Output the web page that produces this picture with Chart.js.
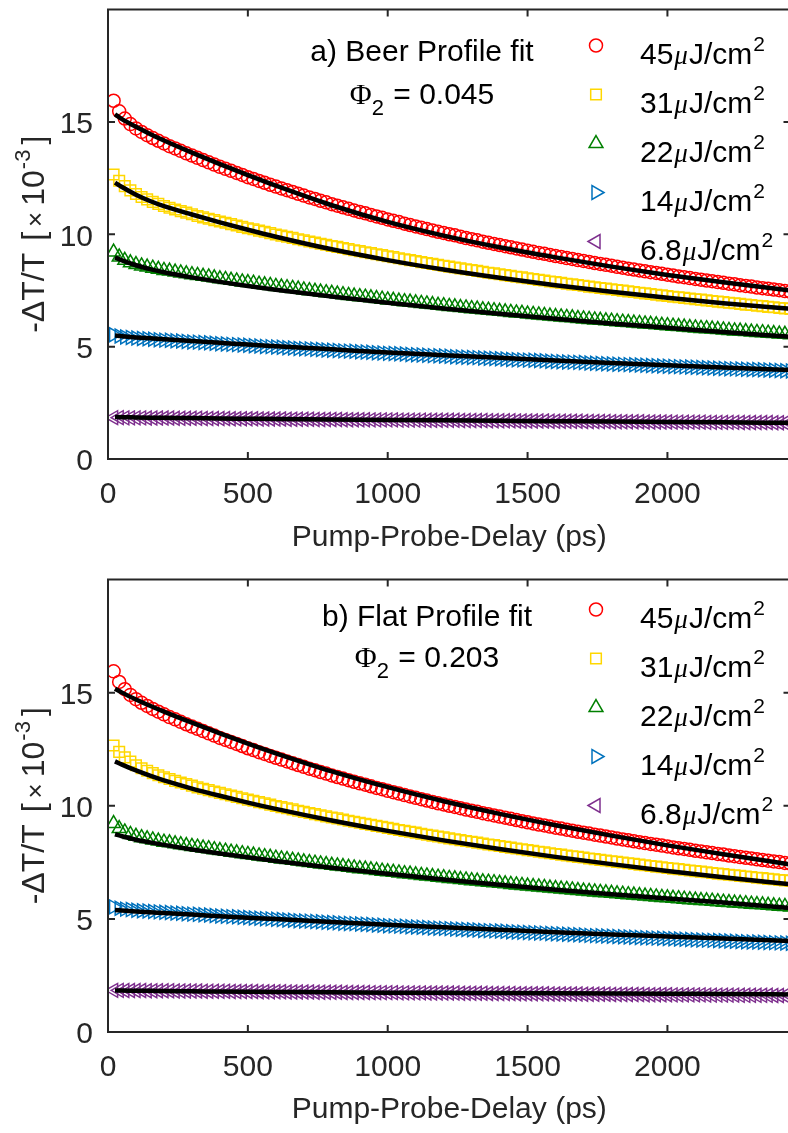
<!DOCTYPE html>
<html lang="en">
<head>
<meta charset="utf-8">
<title>Beer vs flat profile fits</title>
<script src="https://cdn.jsdelivr.net/npm/chart.js@4.4.1/dist/chart.umd.min.js"></script>
<style>
  html, body { margin: 0; padding: 0; background: #ffffff; }
  body { position: relative; width: 788px; height: 1133px; overflow: hidden; }
  canvas { position: absolute; left: 0; }
  #beerChart { top: 0; width: 800px; height: 570px; }
  #flatChart { top: 570px; width: 800px; height: 563px; }
</style>
</head>
<body>
<canvas id="beerChart" width="800" height="570"></canvas>
<canvas id="flatChart" width="800" height="563"></canvas>
<script>
// pump-probe delay of the measured points (ps)
const delays = [
  20, 40, 60, 80, 100, 120, 140, 160, 180, 200,
  220, 240, 260, 280, 300, 320, 340, 360, 380, 400,
  420, 440, 460, 480, 500, 520, 540, 560, 580, 600,
  620, 640, 660, 680, 700, 720, 740, 760, 780, 800,
  820, 840, 860, 880, 900, 920, 940, 960, 980, 1000,
  1020, 1040, 1060, 1080, 1100, 1120, 1140, 1160, 1180, 1200,
  1220, 1240, 1260, 1280, 1300, 1320, 1340, 1360, 1380, 1400,
  1420, 1440, 1460, 1480, 1500, 1520, 1540, 1560, 1580, 1600,
  1620, 1640, 1660, 1680, 1700, 1720, 1740, 1760, 1780, 1800,
  1820, 1840, 1860, 1880, 1900, 1920, 1940, 1960, 1980, 2000,
  2020, 2040, 2060, 2080, 2100, 2120, 2140, 2160, 2180, 2200,
  2220, 2240, 2260, 2280, 2300, 2320, 2340, 2360, 2380, 2400,
  2420, 2440
];

// measured -dT/T (x 1e-3), one array per pump fluence
const data45 = [
  15.94, 15.47, 15.15, 14.90, 14.71, 14.55, 14.41, 14.28, 14.16, 14.04,
  13.92, 13.82, 13.71, 13.60, 13.50, 13.40, 13.30, 13.20, 13.10, 13.00,
  12.91, 12.82, 12.73, 12.64, 12.54, 12.46, 12.37, 12.29, 12.20, 12.12,
  12.04, 11.96, 11.88, 11.80, 11.72, 11.64, 11.57, 11.49, 11.42, 11.34,
  11.27, 11.20, 11.13, 11.06, 10.99, 10.93, 10.86, 10.79, 10.73, 10.66,
  10.60, 10.54, 10.47, 10.41, 10.35, 10.29, 10.23, 10.17, 10.11, 10.06,
  10.00, 9.95, 9.89, 9.83, 9.78, 9.73, 9.67, 9.62, 9.57, 9.52,
  9.47, 9.42, 9.37, 9.32, 9.27, 9.22, 9.17, 9.13, 9.08, 9.03,
  8.99, 8.94, 8.90, 8.85, 8.81, 8.77, 8.72, 8.68, 8.64, 8.60,
  8.55, 8.51, 8.47, 8.43, 8.39, 8.35, 8.31, 8.28, 8.24, 8.20,
  8.16, 8.12, 8.09, 8.05, 8.01, 7.98, 7.94, 7.91, 7.87, 7.84,
  7.80, 7.77, 7.73, 7.70, 7.67, 7.63, 7.60, 7.57, 7.54, 7.51,
  7.47, 7.44
];
const data31 = [
  12.66, 12.38, 12.14, 11.95, 11.79, 11.66, 11.55, 11.44, 11.35, 11.26,
  11.18, 11.10, 11.03, 10.96, 10.89, 10.81, 10.75, 10.69, 10.63, 10.57,
  10.51, 10.45, 10.39, 10.33, 10.27, 10.22, 10.16, 10.11, 10.05, 9.99,
  9.94, 9.89, 9.84, 9.78, 9.73, 9.68, 9.63, 9.58, 9.53, 9.48,
  9.44, 9.39, 9.34, 9.29, 9.25, 9.20, 9.16, 9.11, 9.07, 9.02,
  8.98, 8.93, 8.89, 8.85, 8.81, 8.76, 8.72, 8.68, 8.64, 8.60,
  8.56, 8.52, 8.48, 8.44, 8.41, 8.37, 8.33, 8.29, 8.26, 8.22,
  8.18, 8.15, 8.11, 8.08, 8.04, 8.01, 7.97, 7.94, 7.90, 7.87,
  7.84, 7.80, 7.77, 7.74, 7.71, 7.67, 7.64, 7.61, 7.58, 7.55,
  7.52, 7.49, 7.46, 7.43, 7.40, 7.37, 7.34, 7.31, 7.28, 7.25,
  7.22, 7.20, 7.17, 7.14, 7.11, 7.09, 7.06, 7.03, 7.00, 6.98,
  6.95, 6.93, 6.90, 6.87, 6.85, 6.82, 6.80, 6.77, 6.75, 6.72,
  6.70, 6.68
];
const data22 = [
  9.21, 8.99, 8.84, 8.73, 8.65, 8.59, 8.54, 8.49, 8.44, 8.39,
  8.36, 8.32, 8.28, 8.24, 8.20, 8.17, 8.13, 8.10, 8.06, 8.02,
  7.99, 7.95, 7.92, 7.88, 7.85, 7.82, 7.78, 7.75, 7.72, 7.68,
  7.65, 7.62, 7.59, 7.56, 7.52, 7.49, 7.46, 7.43, 7.40, 7.37,
  7.34, 7.31, 7.28, 7.25, 7.22, 7.20, 7.17, 7.14, 7.11, 7.08,
  7.06, 7.03, 7.00, 6.98, 6.95, 6.92, 6.90, 6.87, 6.84, 6.82,
  6.79, 6.77, 6.74, 6.72, 6.69, 6.67, 6.64, 6.62, 6.60, 6.57,
  6.55, 6.52, 6.50, 6.48, 6.45, 6.43, 6.41, 6.39, 6.36, 6.34,
  6.32, 6.30, 6.28, 6.25, 6.23, 6.21, 6.19, 6.17, 6.15, 6.13,
  6.11, 6.09, 6.07, 6.05, 6.03, 6.01, 5.99, 5.97, 5.95, 5.93,
  5.91, 5.89, 5.87, 5.85, 5.83, 5.81, 5.80, 5.78, 5.76, 5.74,
  5.72, 5.70, 5.69, 5.67, 5.65, 5.63, 5.62, 5.60, 5.58, 5.56,
  5.55, 5.53
];
const data14 = [
  5.53, 5.47, 5.43, 5.41, 5.38, 5.36, 5.35, 5.33, 5.31, 5.29,
  5.28, 5.26, 5.25, 5.23, 5.21, 5.20, 5.18, 5.17, 5.15, 5.13,
  5.12, 5.10, 5.09, 5.07, 5.06, 5.04, 5.03, 5.01, 5.00, 4.98,
  4.97, 4.95, 4.94, 4.92, 4.91, 4.90, 4.88, 4.87, 4.85, 4.84,
  4.83, 4.81, 4.80, 4.79, 4.77, 4.76, 4.75, 4.73, 4.72, 4.70,
  4.69, 4.68, 4.67, 4.65, 4.64, 4.63, 4.62, 4.60, 4.59, 4.58,
  4.57, 4.55, 4.54, 4.53, 4.52, 4.51, 4.49, 4.48, 4.47, 4.46,
  4.45, 4.43, 4.42, 4.41, 4.40, 4.39, 4.38, 4.37, 4.35, 4.34,
  4.33, 4.32, 4.31, 4.30, 4.29, 4.27, 4.26, 4.25, 4.24, 4.23,
  4.22, 4.21, 4.20, 4.19, 4.18, 4.17, 4.16, 4.15, 4.14, 4.13,
  4.12, 4.11, 4.10, 4.09, 4.08, 4.07, 4.06, 4.05, 4.04, 4.03,
  4.02, 4.01, 4.00, 3.99, 3.98, 3.98, 3.97, 3.96, 3.95, 3.94,
  3.93, 3.92
];
const data6_8 = [
  1.84, 1.84, 1.83, 1.83, 1.83, 1.83, 1.82, 1.82, 1.82, 1.82,
  1.82, 1.81, 1.81, 1.81, 1.81, 1.81, 1.80, 1.80, 1.80, 1.80,
  1.80, 1.79, 1.79, 1.79, 1.79, 1.79, 1.78, 1.78, 1.78, 1.78,
  1.78, 1.77, 1.77, 1.77, 1.77, 1.77, 1.76, 1.76, 1.76, 1.76,
  1.76, 1.75, 1.75, 1.75, 1.75, 1.75, 1.74, 1.74, 1.74, 1.74,
  1.74, 1.73, 1.73, 1.73, 1.73, 1.73, 1.72, 1.72, 1.72, 1.72,
  1.72, 1.72, 1.71, 1.71, 1.71, 1.71, 1.71, 1.70, 1.70, 1.70,
  1.70, 1.70, 1.69, 1.69, 1.69, 1.69, 1.69, 1.69, 1.68, 1.68,
  1.68, 1.68, 1.68, 1.68, 1.67, 1.67, 1.67, 1.67, 1.67, 1.66,
  1.66, 1.66, 1.66, 1.66, 1.66, 1.65, 1.65, 1.65, 1.65, 1.65,
  1.64, 1.64, 1.64, 1.64, 1.64, 1.64, 1.63, 1.63, 1.63, 1.63,
  1.63, 1.63, 1.62, 1.62, 1.62, 1.62, 1.62, 1.62, 1.61, 1.61,
  1.61, 1.61
];

// fit curves (coarser sampling, drawn as smooth lines)
const fitDelays = [25, 50, 100, 150, 200, 300, 400, 500, 600, 800, 1000, 1200, 1400, 1600, 1800, 2000, 2200, 2440];

const beerFit45 = [15.34, 15.12, 14.78, 14.46, 14.17, 13.63, 13.12, 12.63, 12.16, 11.29, 10.55, 9.94, 9.42, 8.97, 8.56, 8.19, 7.86, 7.50];
const beerFit31 = [12.30, 12.10, 11.76, 11.48, 11.25, 10.88, 10.53, 10.20, 9.89, 9.33, 8.85, 8.43, 8.06, 7.73, 7.44, 7.17, 6.93, 6.68];
const beerFit22 = [8.97, 8.84, 8.62, 8.45, 8.31, 8.08, 7.88, 7.70, 7.53, 7.23, 6.95, 6.70, 6.46, 6.24, 6.03, 5.84, 5.65, 5.44];
const beerFit14 = [5.49, 5.46, 5.41, 5.37, 5.33, 5.25, 5.17, 5.09, 5.02, 4.88, 4.74, 4.62, 4.50, 4.38, 4.27, 4.17, 4.07, 3.96];
const beerFit6_8 = [1.87, 1.86, 1.85, 1.84, 1.83, 1.82, 1.80, 1.79, 1.78, 1.76, 1.74, 1.72, 1.70, 1.68, 1.67, 1.65, 1.63, 1.61];

const flatFit45 = [15.17, 15.00, 14.70, 14.42, 14.16, 13.67, 13.20, 12.75, 12.32, 11.52, 10.82, 10.20, 9.64, 9.14, 8.68, 8.25, 7.86, 7.40];
const flatFit31 = [11.96, 11.82, 11.56, 11.33, 11.12, 10.76, 10.44, 10.14, 9.86, 9.35, 8.89, 8.47, 8.09, 7.74, 7.42, 7.12, 6.84, 6.53];
const flatFit22 = [8.74, 8.65, 8.50, 8.38, 8.27, 8.07, 7.89, 7.72, 7.56, 7.26, 6.99, 6.74, 6.51, 6.29, 6.09, 5.90, 5.72, 5.48];
const flatFit14 = [5.39, 5.37, 5.33, 5.29, 5.26, 5.19, 5.12, 5.05, 4.99, 4.86, 4.74, 4.63, 4.52, 4.41, 4.31, 4.22, 4.13, 4.02];
const flatFit6_8 = [1.83, 1.83, 1.82, 1.82, 1.81, 1.80, 1.79, 1.78, 1.77, 1.76, 1.74, 1.73, 1.72, 1.71, 1.70, 1.69, 1.68, 1.66];

const fluences = ['45', '31', '22', '14', '6.8'];
const xTickValues = [0, 500, 1000, 1500, 2000];
const yTickValues = [0, 5, 10, 15];

// styling
const axisColor = '#262626';
const fontFamily = '"Liberation Sans", Arial, Helvetica, sans-serif';
const mainFont = '30px ' + fontFamily;
const markerColors = ['#ff0000', '#ffd700', '#008000', '#0072bd', '#7e2f8e'];
const markerStyles = ['circle', 'rect', 'triangle', 'triangle', 'triangle'];
const markerRotations = [0, 0, 0, 90, -90];
const markerRadii = [6.5, 7.5, 8, 8, 8];
const markerLine = 1.5;

Chart.defaults.font.family = fontFamily;
Chart.defaults.color = axisColor;

function drawMarker(ctx, i, x, y) {
  ctx.save();
  ctx.strokeStyle = markerColors[i];
  ctx.fillStyle = 'rgba(0,0,0,0)';
  ctx.lineWidth = markerLine;
  Chart.helpers.drawPoint(ctx, {
    pointStyle: markerStyles[i],
    rotation: markerRotations[i],
    radius: markerRadii[i],
    borderWidth: markerLine
  }, x, y);
  ctx.restore();
}

function runsWidth(ctx, runs) {
  let w = 0;
  runs.forEach(r => { ctx.font = r.font; w += ctx.measureText(r.text).width + (r.gap || 0); });
  return w;
}

function drawRuns(ctx, runs, x, baseline) {
  runs.forEach(r => {
    ctx.font = r.font;
    ctx.fillText(r.text, x, baseline - (r.rise || 0));
    x += ctx.measureText(r.text).width + (r.gap || 0);
  });
}

// box around the axes, with inward ticks on all four sides
const framePlugin = {
  id: 'frame',
  afterDatasetsDraw(chart) {
    const { ctx, chartArea: a, scales: { x, y } } = chart;
    const len = 7;
    ctx.save();
    ctx.strokeStyle = axisColor;
    ctx.lineWidth = 2;
    ctx.beginPath();
    x.ticks.forEach(t => {
      const px = x.getPixelForValue(t.value);
      ctx.moveTo(px, a.bottom); ctx.lineTo(px, a.bottom - len);
      ctx.moveTo(px, a.top); ctx.lineTo(px, a.top + len);
    });
    y.ticks.forEach(t => {
      const py = y.getPixelForValue(t.value);
      ctx.moveTo(a.left, py); ctx.lineTo(a.left + len, py);
      ctx.moveTo(a.right, py); ctx.lineTo(a.right - len, py);
    });
    ctx.stroke();
    ctx.strokeRect(a.left, a.top, a.right - a.left, a.bottom - a.top);
    ctx.restore();
  }
};

// y label with superscript, legend and the fit annotation
const panelTextPlugin = {
  id: 'panelText',
  afterDraw(chart, args, opts) {
    const { ctx, chartArea: a } = chart;
    ctx.save();
    ctx.textBaseline = 'alphabetic';
    ctx.textAlign = 'left';

    // rotated y-axis label
    ctx.fillStyle = axisColor;
    const big = '32px ' + fontFamily;
    const yLabel = [
      { text: '-ΔT/T', font: big, gap: 12 },
      { text: '[', font: big, gap: 5 },
      { text: '×', font: '26px ' + fontFamily, gap: 6 },
      { text: '10', font: big, gap: 1 },
      { text: '-3', font: '22px ' + fontFamily, rise: 14, gap: 5 },
      { text: ']', font: big }
    ];
    ctx.save();
    ctx.translate(33, (a.top + a.bottom) / 2);
    ctx.rotate(-Math.PI / 2);
    drawRuns(ctx, yLabel, -runsWidth(ctx, yLabel) / 2, 11);
    ctx.restore();

    ctx.fillStyle = '#000';
    const line1 = [{ text: opts.title, font: mainFont }];
    drawRuns(ctx, line1, opts.centerX - runsWidth(ctx, line1) / 2, a.top + opts.titleY);

    const line2 = [
      { text: 'Φ', font: '30px "Liberation Serif", "DejaVu Serif", serif', gap: 0 },
      { text: '2', font: '22px ' + fontFamily, rise: -11, gap: 1 },
      { text: ' = ' + opts.phi, font: mainFont }
    ];
    drawRuns(ctx, line2, opts.centerX - runsWidth(ctx, line2) / 2, a.top + opts.phiY);

    fluences.forEach((f, i) => {
      const my = a.top + opts.legendY + i * 49;
      drawMarker(ctx, i, 596, my);
      drawRuns(ctx, [
        { text: f, font: mainFont, gap: 1 },
        { text: 'μ', font: 'italic 27px "Liberation Serif", "DejaVu Serif", serif', gap: 1 },
        { text: 'J/cm', font: mainFont, gap: 1 },
        { text: '2', font: '21px ' + fontFamily, rise: 13 }
      ], 640, my + 18);
    });
    ctx.restore();
  }
};

function buildChart(canvasId, fits, panel) {
  const measured = [data45, data31, data22, data14, data6_8];
  const datasets = [];
  fits.forEach((vals) => {
    datasets.push({
      label: 'fit',
      data: fitDelays.map((t, k) => ({ x: t, y: vals[k] })),
      showLine: true,
      borderColor: '#000000',
      borderWidth: 4.5,
      pointRadius: 0,
      cubicInterpolationMode: 'monotone',
      order: 1
    });
  });
  measured.forEach((vals, i) => {
    datasets.push({
      label: fluences[i] + ' µJ/cm²',
      data: delays.map((t, k) => ({ x: t, y: vals[k] })),
      showLine: false,
      pointStyle: markerStyles[i],
      pointRotation: markerRotations[i],
      pointRadius: markerRadii[i],
      pointBorderWidth: markerLine,
      pointBorderColor: markerColors[i],
      pointBackgroundColor: 'rgba(0,0,0,0)',
      order: 2
    });
  });

  return new Chart(document.getElementById(canvasId), {
    type: 'scatter',
    data: { datasets },
    plugins: [framePlugin, panelTextPlugin],
    options: {
      responsive: false,
      animation: false,
      devicePixelRatio: 1,
      events: [],
      layout: { padding: { top: panel.padTop, right: 9, left: 0, bottom: 0 } },
      plugins: {
        legend: { display: false },
        tooltip: { enabled: false },
        panelText: panel.text
      },
      scales: {
        x: {
          type: 'linear',
          min: 0,
          max: 2440,
          afterBuildTicks: s => { s.ticks = xTickValues.map(v => ({ value: v })); },
          afterFit: s => { s.height = panel.xHeight; s.paddingLeft = 0; s.paddingRight = 0; },
          grid: { display: false, drawTicks: false },
          border: { display: false },
          ticks: { padding: 18, maxRotation: 0, color: axisColor, font: { size: 30 }, callback: v => String(v) },
          title: {
            display: true,
            text: 'Pump-Probe-Delay (ps)',
            color: axisColor,
            font: { size: 30 },
            padding: { top: 0, bottom: panel.xTitlePad }
          }
        },
        y: {
          type: 'linear',
          min: 0,
          max: 20,
          afterBuildTicks: s => { s.ticks = yTickValues.map(v => ({ value: v })); },
          afterFit: s => { s.width = 108; s.paddingTop = 0; s.paddingBottom = 0; },
          grid: { display: false, drawTicks: false },
          border: { display: false },
          ticks: { padding: 15, labelOffset: 3, color: axisColor, font: { size: 30 }, callback: v => String(v) },
          title: { display: false }
        }
      }
    }
  });
}

buildChart('beerChart', [beerFit45, beerFit31, beerFit22, beerFit14, beerFit6_8], {
  padTop: 1,
  xHeight: 111,
  xTitlePad: 14,
  text: { title: 'a) Beer Profile fit', phi: '0.045', centerX: 422, titleY: 51, phiY: 94, legendY: 36 }
});

buildChart('flatChart', [flatFit45, flatFit31, flatFit22, flatFit14, flatFit6_8], {
  padTop: 3,
  xHeight: 101,
  xTitlePad: 5,
  text: { title: 'b) Flat Profile fit', phi: '0.203', centerX: 427, titleY: 46, phiY: 87, legendY: 30 }
});
</script>
</body>
</html>
